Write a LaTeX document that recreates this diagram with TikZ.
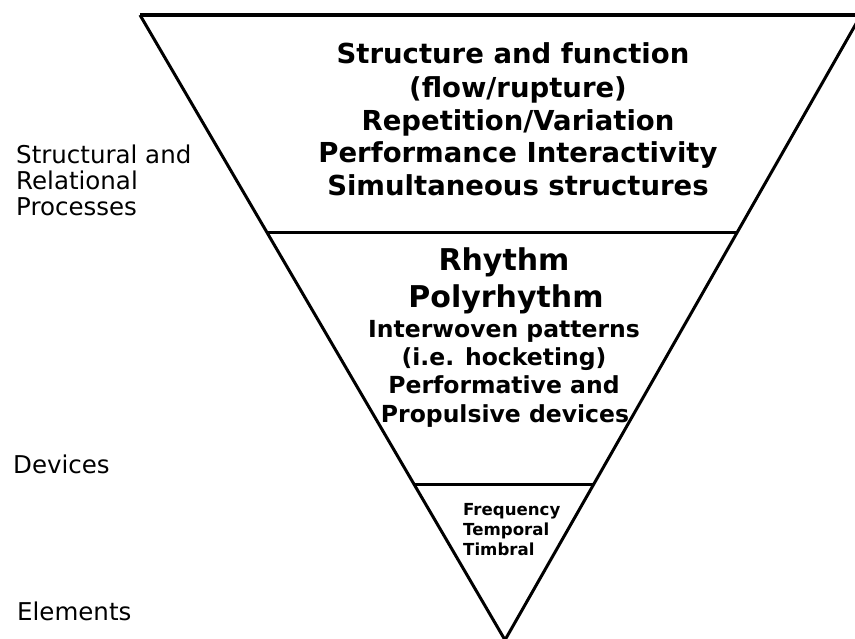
\documentclass[tikz,border=0pt]{standalone}
\usepackage{fontspec}
\setmainfont{DejaVu Sans}
\usetikzlibrary{calc}

\tikzset{
  edge/.style={line width=3pt, line join=miter, black},
  rim/.style={line width=3.6pt, black},
  tierline/.style={line width=3pt, black},
  bigtxt/.style={inner sep=0pt, anchor=base, font=\bfseries\fontsize{27.5}{33}\selectfont},
  headtxt/.style={inner sep=0pt, anchor=base, font=\bfseries\fontsize{30}{36}\selectfont},
  midtxt/.style={inner sep=0pt, anchor=base, font=\bfseries\fontsize{23.5}{28}\selectfont},
  smalltxt/.style={inner sep=0pt, anchor=base west, font=\bfseries\fontsize{16.6}{20}\selectfont},
  sidetxt/.style={inner sep=0pt, anchor=base west, font=\fontsize{24.5}{26}\selectfont},
}

\begin{document}
\begin{tikzpicture}[x=1pt, y=-1pt]
  \useasboundingbox (0,0) rectangle (855,638);
  \clip (0,0) rectangle (855,638);

  % inverted triangle and its tiers
  \coordinate (tl) at (140,15);
  \coordinate (tr) at (861,15);
  \coordinate (apex) at (505,640);
  \coordinate (l1) at ($(tl)!0.3472!(apex)$);
  \coordinate (r1) at ($(tr)!0.3472!(apex)$);
  \coordinate (l2) at ($(tl)!0.7504!(apex)$);
  \coordinate (r2) at ($(tr)!0.7504!(apex)$);

  \draw[edge] (tl) -- (apex) -- (tr);
  \draw[rim] (tl) -- (tr);
  \draw[tierline] (l1) -- (r1);
  \draw[tierline] (l2) -- (r2);

  % top tier
  \node[bigtxt] (s1) at (513,63) {Structure and function};
  \node[bigtxt] (s2) at (518,97) {(flow/rupture)};
  \node[bigtxt] (s3) at (518,130) {Repetition/Variation};
  \node[bigtxt] (s4) at (518,162) {Performance Interactivity};
  \node[bigtxt] (s5) at (518,195) {Simultaneous structures};

  % middle tier
  \node[headtxt] (d1) at (504,270) {Rhythm};
  \node[headtxt] (d2) at (506,307) {Polyrhythm};
  \node[midtxt] (d3) at (504,337) {Interwoven patterns};
  \node[midtxt] (d4) at (504,365) {(i.e. hocketing)};
  \node[midtxt] (d5) at (504,393) {Performative and};
  \node[midtxt] (d6) at (505,422) {Propulsive devices};

  % bottom tier
  \node[smalltxt] (e1) at (463,515) {Frequency};
  \node[smalltxt] (e2) at (463,535) {Temporal};
  \node[smalltxt] (e3) at (463,555) {Timbral};

  % side labels
  \node[sidetxt] (p1) at (16,163) {Structural and};
  \node[sidetxt] (p2) at (16,189) {Relational};
  \node[sidetxt] (p3) at (16,215) {Processes};
  \node[sidetxt] (dv) at (13,473) {Devices};
  \node[sidetxt] (el) at (17,620) {Elements};
\end{tikzpicture}
\end{document}
